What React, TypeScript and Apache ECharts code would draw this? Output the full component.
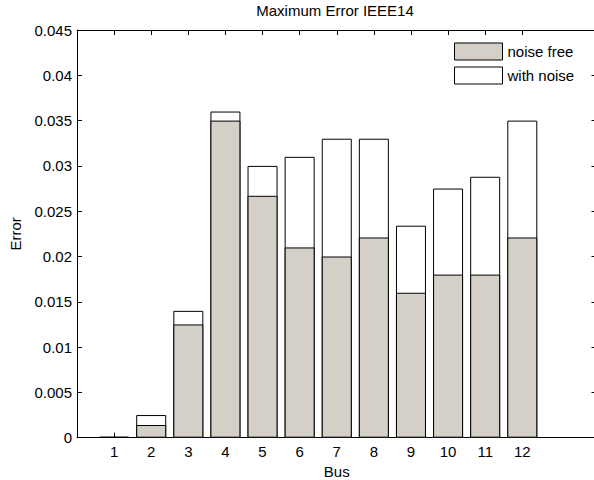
import React, { useEffect, useRef } from "react";
import * as echarts from "echarts";

const buses = [1, 2, 3, 4, 5, 6, 7, 8, 9, 10, 11, 12];
const noiseFree = [0.00005, 0.0014, 0.0125, 0.035, 0.0267, 0.021, 0.02, 0.0221, 0.016, 0.018, 0.018, 0.0221];
const withNoise = [0.0001, 0.0025, 0.014, 0.036, 0.03, 0.031, 0.033, 0.033, 0.0234, 0.0275, 0.0288, 0.035];
const yTicks = [0, 0.005, 0.01, 0.015, 0.02, 0.025, 0.03, 0.035, 0.04, 0.045];

const FONT = "Liberation Sans";
const FS = 15;

export default function App() {
  const ref = useRef<HTMLDivElement>(null);
  useEffect(() => {
    if (!ref.current) return;
    const chart = echarts.init(ref.current, undefined, { renderer: "svg" });
    const tickStyle = { show: true, inside: true, length: 5, lineStyle: { color: "#000", width: 1 } };
    const lineStyle = { show: true, onZero: false, lineStyle: { color: "#000", width: 1 } };
    chart.setOption({
      animation: false,
      backgroundColor: "#fff",
      title: {
        text: "Maximum Error IEEE14",
        left: 335,
        top: 3,
        padding: 0,
        textAlign: "center",
        textStyle: { fontFamily: FONT, fontSize: FS, fontWeight: "normal", color: "#000" },
      },
      legend: {
        orient: "vertical",
        left: 454,
        top: 42.5,
        padding: 0,
        itemWidth: 48,
        itemHeight: 17,
        itemGap: 6,
        icon: "rect",
        itemStyle: { borderWidth: 1, borderColor: "#000" },
        data: ["noise free", "with noise"],
        textStyle: { fontFamily: FONT, fontSize: FS, color: "#000" },
      },
      grid: { left: 77, top: 30, right: -2.5, bottom: 42.3, outerBoundsMode: "none", containLabel: false },
      xAxis: [
        {
          type: "value",
          min: 0,
          max: 14,
          interval: 1,
          name: "Bus",
          nameLocation: "middle",
          nameGap: 25,
          nameTextStyle: { fontFamily: FONT, fontSize: FS, color: "#000" },
          axisLine: lineStyle,
          axisTick: { ...tickStyle, customValues: buses },
          axisLabel: {
            customValues: buses,
            margin: 6,
            fontFamily: FONT,
            fontSize: FS,
            color: "#000",
          },
          splitLine: { show: false },
        },
        {
          type: "value",
          position: "top",
          show: true,
          min: 0,
          max: 14,
          interval: 1,
          axisLine: lineStyle,
          axisTick: { ...tickStyle, customValues: buses },
          axisLabel: { show: false },
          splitLine: { show: false },
        },
      ],
      yAxis: [
        {
          type: "value",
          min: 0,
          max: 0.045,
          interval: 0.005,
          name: "Error",
          nameLocation: "middle",
          nameGap: 54,
          nameTextStyle: { fontFamily: FONT, fontSize: FS, color: "#000" },
          axisLine: lineStyle,
          axisTick: tickStyle,
          axisLabel: {
            margin: 5,
            fontFamily: FONT,
            fontSize: FS,
            color: "#000",
            formatter: (v: number) => {
              const t = yTicks.find((y) => Math.abs(y - v) < 1e-9);
              return t === 0 ? "0" : String(t !== undefined ? t : v);
            },
          },
          splitLine: { show: false },
        },
        {
          type: "value",
          position: "right",
          show: true,
          min: 0,
          max: 0.045,
          interval: 0.005,
          axisLine: lineStyle,
          axisTick: tickStyle,
          axisLabel: { show: false },
          splitLine: { show: false },
        },
      ],
      series: [
        {
          name: "with noise",
          type: "bar",
          xAxisIndex: 0,
          yAxisIndex: 0,
          barWidth: 30,
          barGap: "-100%",
          data: buses.map((b, i) => [b, withNoise[i]]),
          itemStyle: { color: "#ffffff", borderColor: "#000", borderWidth: 1 },
        },
        {
          name: "noise free",
          type: "bar",
          xAxisIndex: 0,
          yAxisIndex: 0,
          barWidth: 30,
          barGap: "-100%",
          data: buses.map((b, i) => [b, noiseFree[i]]),
          itemStyle: { color: "#d4d0c8", borderColor: "#000", borderWidth: 1 },
        },
        {
          name: "frame",
          type: "line",
          xAxisIndex: 1,
          yAxisIndex: 1,
          data: [],
          silent: true,
          showSymbol: false,
        },
      ],
    });
    return () => chart.dispose();
  }, []);
  return (
    <div
      ref={ref}
      style={{ position: "absolute", left: 0, top: 0, width: 594, height: 480 }}
    />
  );
}
